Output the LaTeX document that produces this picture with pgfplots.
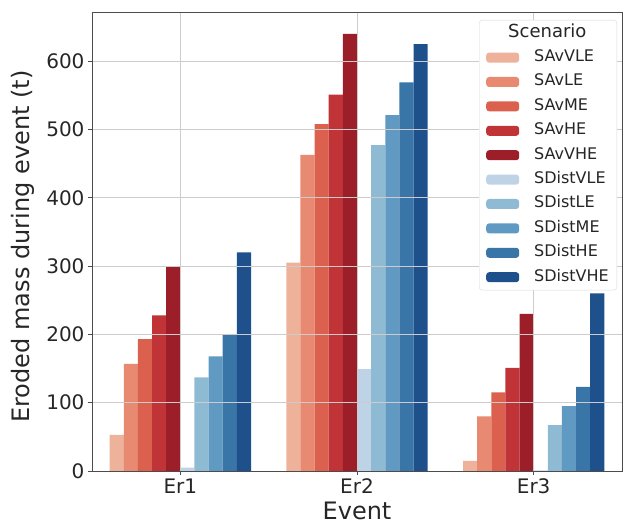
\documentclass[border=0pt]{standalone}
\usepackage{pgfplots}
\pgfplotsset{compat=1.18}
\usepackage{fontspec}
\setmainfont{DejaVu Sans}
\definecolor{r1}{RGB}{238,178,155}
\definecolor{r2}{RGB}{231,138,113}
\definecolor{r3}{RGB}{220,96,78}
\definecolor{r4}{RGB}{192,52,56}
\definecolor{r5}{RGB}{155,30,40}
\definecolor{b1}{RGB}{190,212,230}
\definecolor{b2}{RGB}{143,186,212}
\definecolor{b3}{RGB}{96,154,195}
\definecolor{b4}{RGB}{58,117,168}
\definecolor{b5}{RGB}{30,80,140}
\begin{document}
\begin{tikzpicture}
\begin{axis}[
  scale only axis, width=530pt, height=459pt,
  xmin=-0.5, xmax=2.5, ymin=0, ymax=672,
  xtick={0,1,2}, xticklabels={Er1,Er2,Er3},
  ytick={0,100,200,300,400,500,600},
  ybar=0pt, bar width=0.08,
  grid=major, grid style={draw=black!20, line width=0.9pt},
  axis on top,
  axis line style={draw=black!70, line width=0.8pt},
  tick style={draw=black!70, line width=0.8pt},
  tick align=outside, major tick length=4pt, tick pos=left,
  /pgf/number format/assume math mode=true,
  ticklabel style={font=\fontsize{20}{24}\selectfont, text=black!85},
  label style={font=\fontsize{24}{28}\selectfont, text=black!85},
  xlabel={Event}, ylabel={Eroded mass during event (t)},
  xlabel style={at={(axis description cs:0.5,-0.086)}, anchor=center},
  ylabel style={at={(axis description cs:-0.13,0.489)}, anchor=center, rotate=0},
  legend style={at={(axis description cs:0.9906,0.9826)}, anchor=north east,
    draw=black!15, rounded corners=3pt, fill=white,
    font=\fontsize{16}{19}\selectfont, text=black!85,
    row sep=6.4pt, inner ysep=4pt, inner xsep=7pt,
    nodes={text height=12pt, text depth=4pt, inner sep=1pt},
    /tikz/every odd column/.append style={column sep=14pt}},
  legend cell align=left,
  legend image code/.code={\fill[#1, draw=none] (0pt,-5pt) rectangle (33pt,5pt);},
]
\addlegendimage{empty legend}
\addlegendentry{\hspace{-26pt}\fontsize{18}{20}\selectfont Scenario}
\addplot[fill=r1, draw=none, bar shift=-0.36] coordinates {(0,53) (1,305) (2,15)};
\addlegendentry{SAvVLE}
\addplot[fill=r2, draw=none, bar shift=-0.28] coordinates {(0,157) (1,463) (2,80)};
\addlegendentry{SAvLE}
\addplot[fill=r3, draw=none, bar shift=-0.20] coordinates {(0,193) (1,508) (2,115)};
\addlegendentry{SAvME}
\addplot[fill=r4, draw=none, bar shift=-0.12] coordinates {(0,228) (1,551) (2,151)};
\addlegendentry{SAvHE}
\addplot[fill=r5, draw=none, bar shift=-0.04] coordinates {(0,300) (1,640) (2,230)};
\addlegendentry{SAvVHE}
\addplot[fill=b1, draw=none, bar shift=0.04] coordinates {(0,5) (1,149) (2,1)};
\addlegendentry{SDistVLE}
\addplot[fill=b2, draw=none, bar shift=0.12] coordinates {(0,137) (1,477) (2,67)};
\addlegendentry{SDistLE}
\addplot[fill=b3, draw=none, bar shift=0.20] coordinates {(0,168) (1,521) (2,95)};
\addlegendentry{SDistME}
\addplot[fill=b4, draw=none, bar shift=0.28] coordinates {(0,200) (1,569) (2,123)};
\addlegendentry{SDistHE}
\addplot[fill=b5, draw=none, bar shift=0.36] coordinates {(0,320) (1,625) (2,260)};
\addlegendentry{SDistVHE}
\end{axis}
\pgfresetboundingbox
\useasboundingbox (-92pt,-54pt) rectangle (531pt,471pt);
\end{tikzpicture}
\end{document}
